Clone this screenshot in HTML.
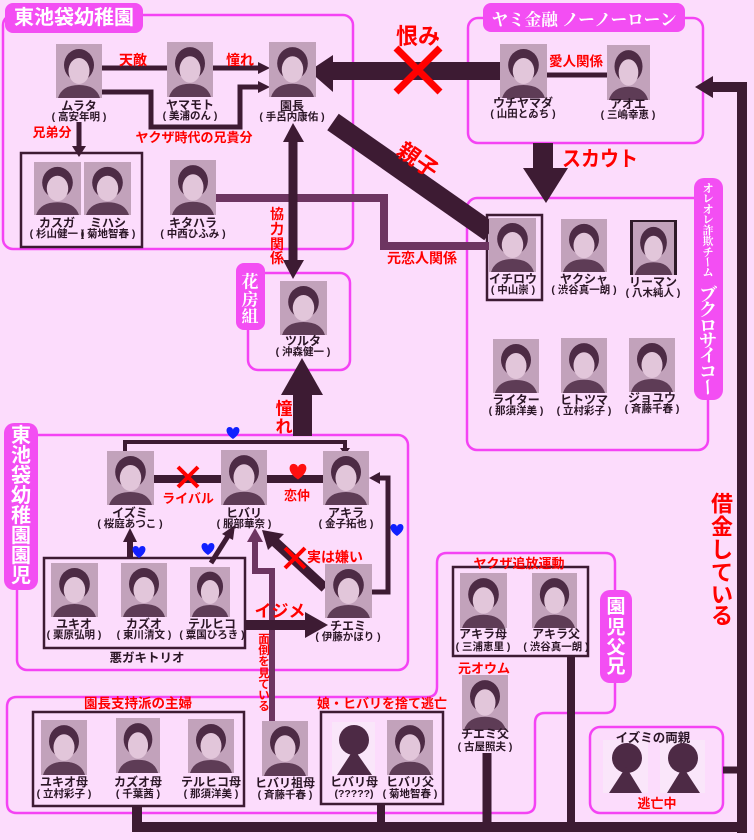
<!DOCTYPE html>
<html><head><meta charset="utf-8">
<style>
html,body{margin:0;padding:0;background:#fcdcfc;width:754px;height:840px;overflow:hidden}
svg{display:block}
text{font-family:"Liberation Sans","Noto Sans CJK JP",sans-serif;font-weight:bold}
.n{font-size:12px;fill:#2b1626;text-anchor:middle}
.s{font-size:10.5px;fill:#2b1626;text-anchor:middle}
.r{fill:#ff0000;text-anchor:middle}
.w{fill:#ffffff;text-anchor:middle;dominant-baseline:central}
.sf{font-family:"Noto Serif CJK SC","Noto Serif CJK JP",serif;font-weight:bold}
.v{text-anchor:middle;dominant-baseline:central}
</style></head><body>
<svg width="754" height="840" viewBox="0 0 754 840" xmlns="http://www.w3.org/2000/svg">
<defs>
<symbol id="ph" viewBox="0 0 46 54" preserveAspectRatio="none">
 <rect width="46" height="54" fill="#c2a2bb"/>
 <ellipse cx="23" cy="21" rx="15" ry="16" fill="#4d2b45"/>
 <path d="M2,54 Q6,41 23,41 Q40,41 44,54Z" fill="#5e3c56"/>
 <ellipse cx="23" cy="27" rx="10.5" ry="13" fill="#e2c6da"/>
</symbol>
<path id="hrt" d="M0,5 C-9,-1 -7,-7 -3.5,-7 C-1.5,-7 0,-5.5 0,-4 C0,-5.5 1.5,-7 3.5,-7 C7,-7 9,-1 0,5Z"/>
</defs>
<rect width="754" height="840" fill="#fcdcfc"/>

<!-- pink boxes -->
<g fill="none" stroke="#f443f4" stroke-width="2.5">
 <rect x="3" y="15" width="350" height="234" rx="10"/>
 <rect x="468" y="18" width="235" height="125" rx="10"/>
 <rect x="467" y="198" width="241" height="252" rx="10"/>
 <rect x="248" y="273" width="102" height="97" rx="10"/>
 <rect x="17" y="435" width="391" height="235" rx="10"/>
 <path d="M17,697 H427 Q437,697 437,687 V563 Q437,553 447,553 H605 Q615,553 615,563 V703 Q615,713 605,713 H545 Q535,713 535,723 V803 Q535,813 525,813 H17 Q7,813 7,803 V707 Q7,697 17,697 Z"/>
 <rect x="590" y="727" width="133" height="86" rx="10"/>
</g>

<!-- dark boxes -->
<g fill="none" stroke="#3d1b33" stroke-width="2.5">
 <rect x="21" y="153" width="121" height="94"/>
 <rect x="487" y="215" width="55" height="85"/>
 <rect x="44" y="558" width="201" height="90"/>
 <rect x="453" y="567" width="135" height="89"/>
 <rect x="33" y="712" width="211" height="94"/>
 <rect x="321" y="712" width="122" height="92"/>
</g>

<!-- purple connectors -->
<g fill="none" stroke="#6d3561">
 <path d="M216,198 H384 V246 H489" stroke-width="8"/>
 <path d="M255,540 V571 H272 V721" stroke-width="6"/>
</g>
<polygon points="247,542 263,542 255,528" fill="#6d3561"/>

<!-- dark connectors -->
<g fill="none" stroke="#3d1b33">
 <line x1="102" y1="68" x2="167" y2="68" stroke-width="5"/>
 <line x1="213" y1="68" x2="260" y2="68" stroke-width="5"/>
 <path d="M102,92 H151 V127 H240 V87 H260" stroke-width="5"/>
 <line x1="79" y1="122" x2="79" y2="148" stroke-width="5"/>
 <line x1="333" y1="122" x2="490" y2="232" stroke-width="20"/>
 <line x1="293" y1="140" x2="293" y2="262" stroke-width="9"/>
 <line x1="547" y1="75" x2="607" y2="75" stroke-width="5"/>
 <path d="M742,833 V87 H712" stroke-width="10"/>
 <path d="M137,806 V827 H747" stroke-width="10"/>
 <line x1="381" y1="804" x2="381" y2="827" stroke-width="8"/>
 <line x1="487" y1="753" x2="487" y2="827" stroke-width="9"/>
 <line x1="571" y1="656" x2="571" y2="827" stroke-width="8"/>
 <line x1="723" y1="770" x2="742" y2="770" stroke-width="7"/>
 <path d="M125,452 V442 H345 V449" stroke-width="4"/>
 <line x1="154" y1="479" x2="221" y2="479" stroke-width="8"/>
 <line x1="267" y1="479" x2="323" y2="479" stroke-width="8"/>
 <path d="M372,592 H388 V478 H378" stroke-width="5"/>
 <line x1="130" y1="558" x2="130" y2="540" stroke-width="6"/>
 <line x1="211" y1="563" x2="228" y2="536" stroke-width="5"/>
 <line x1="325" y1="588" x2="274" y2="541" stroke-width="10"/>
</g>
<g fill="#3d1b33">
 <polygon points="258,62 270,68 258,74"/>
 <polygon points="258,81 270,87 258,93"/>
 <polygon points="72,146 86,146 79,157"/>
 <rect x="333" y="62" width="168" height="18"/>
 <polygon points="333,55 309,71 333,92"/>
 <polygon points="283,142 293,123 304,142"/>
 <polygon points="283,260 293,279 304,260"/>
 <rect x="533" y="143" width="20" height="27"/>
 <polygon points="523,168 568,168 546,203"/>
 <polygon points="713,76 695,87 713,98"/>
 <rect x="293" y="393" width="19" height="43"/>
 <polygon points="281,395 323,395 302,358"/>
 <polygon points="340,448 350,448 345,455"/>
 <polygon points="380,472 369,478 380,484"/>
 <polygon points="123,542 137,542 130,528"/>
 <polygon points="222,534 233,540 235,525"/>
 <polygon points="284,534 268,550 262,530"/>
 <rect x="245" y="620" width="62" height="10"/>
 <polygon points="305,612 305,638 328,625"/>
</g>

<!-- red X marks -->
<g stroke="#ff0000" stroke-linecap="butt">
 <path d="M396,48 L440,92 M440,48 L396,92" stroke-width="7"/>
 <path d="M178,467 L198,487 M198,467 L178,487" stroke-width="4"/>
 <path d="M285,548 L305,568 M305,548 L285,568" stroke-width="4"/>
</g>

<!-- hearts -->
<use href="#hrt" transform="translate(233,434)" fill="#1020ff"/>
<use href="#hrt" transform="translate(397,531)" fill="#1020ff"/>
<use href="#hrt" transform="translate(139,553)" fill="#1020ff"/>
<use href="#hrt" transform="translate(208,550)" fill="#1020ff"/>
<use href="#hrt" transform="translate(298,473) scale(1.3)" fill="#ff1010"/>

<!-- photos -->
<use href="#ph" x="56" y="44" width="46" height="54"/>
<use href="#ph" x="167" y="42" width="46" height="55"/>
<use href="#ph" x="269" y="42" width="47" height="55"/>
<use href="#ph" x="34" y="162" width="47" height="53"/>
<use href="#ph" x="84" y="162" width="47" height="53"/>
<use href="#ph" x="170" y="160" width="46" height="55"/>
<use href="#ph" x="500" y="44" width="47" height="54"/>
<use href="#ph" x="607" y="45" width="43" height="55"/>
<use href="#ph" x="489" y="218" width="47" height="54"/>
<use href="#ph" x="561" y="219" width="46" height="53"/>
<rect x="630" y="220" width="47" height="55" fill="#2e1a28"/>
<use href="#ph" x="633" y="222" width="41" height="53"/>
<use href="#ph" x="493" y="339" width="46" height="54"/>
<use href="#ph" x="561" y="338" width="46" height="55"/>
<use href="#ph" x="629" y="338" width="46" height="54"/>
<use href="#ph" x="280" y="281" width="47" height="54"/>
<use href="#ph" x="107" y="451" width="47" height="54"/>
<use href="#ph" x="221" y="450" width="46" height="55"/>
<use href="#ph" x="323" y="451" width="46" height="54"/>
<use href="#ph" x="51" y="563" width="47" height="54"/>
<use href="#ph" x="121" y="563" width="46" height="54"/>
<use href="#ph" x="190" y="567" width="40" height="50"/>
<use href="#ph" x="325" y="564" width="47" height="54"/>
<use href="#ph" x="460" y="573" width="47" height="55"/>
<use href="#ph" x="532" y="573" width="45" height="55"/>
<use href="#ph" x="462" y="675" width="46" height="55"/>
<use href="#ph" x="41" y="720" width="46" height="55"/>
<use href="#ph" x="116" y="718" width="44" height="55"/>
<use href="#ph" x="188" y="719" width="46" height="54"/>
<use href="#ph" x="262" y="721" width="46" height="55"/>
<use href="#ph" x="387" y="720" width="46" height="55"/>

<!-- silhouettes -->
<g>
 <rect x="332" y="722" width="43" height="53" fill="#fae6fa"/>
 <rect x="603" y="740" width="45" height="53" fill="#fae6fa"/>
 <rect x="660" y="740" width="45" height="53" fill="#fae6fa"/>
 <g fill="#4d2a45">
  <circle cx="354" cy="740" r="15"/>
  <polygon points="337,775 372,775 354,749"/>
  <circle cx="627" cy="758" r="15"/>
  <polygon points="609,793 642,793 626,767"/>
  <circle cx="683" cy="758" r="15"/>
  <polygon points="667,793 700,793 683,767"/>
 </g>
</g>

<!-- names -->
<text class="n" x="79" y="110">ムラタ</text><text class="s" x="79" y="120">( 高安年明 )</text>
<text class="n" x="190" y="109">ヤマモト</text><text class="s" x="190" y="119">( 美浦のん )</text>
<text class="n" x="292" y="110">園長</text><text class="s" x="292" y="120">( 手呂内康佑 )</text>
<text class="n" x="57" y="227">カスガ</text><text class="s" x="57" y="237">( 杉山健一 )</text>
<text class="n" x="108" y="227">ミハシ</text><text class="s" x="108" y="237">( 菊地智春 )</text>
<text class="n" x="193" y="227">キタハラ</text><text class="s" x="193" y="237">( 中西ひふみ )</text>
<text class="n" x="523" y="107">ウチヤマダ</text><text class="s" x="523" y="117">( 山田とゐち )</text>
<text class="n" x="628" y="108">アオエ</text><text class="s" x="628" y="118">( 三嶋幸恵 )</text>
<text class="n" x="513" y="283">イチロウ</text><text class="s" x="513" y="293">( 中山崇 )</text>
<text class="n" x="584" y="283">ヤクシャ</text><text class="s" x="584" y="293">( 渋谷真一朗 )</text>
<text class="n" x="653" y="286">リーマン</text><text class="s" x="653" y="296">( 八木純人 )</text>
<text class="n" x="516" y="404">ライター</text><text class="s" x="516" y="414">( 那須洋美 )</text>
<text class="n" x="584" y="404">ヒトツマ</text><text class="s" x="584" y="414">( 立村彩子 )</text>
<text class="n" x="652" y="402">ジョユウ</text><text class="s" x="652" y="412">( 斉藤千春 )</text>
<text class="n" x="303" y="345">ツルタ</text><text class="s" x="303" y="355">( 沖森健一 )</text>
<text class="n" x="130" y="517">イズミ</text><text class="s" x="130" y="527">( 桜庭あつこ )</text>
<text class="n" x="244" y="517">ヒバリ</text><text class="s" x="244" y="527">( 服部華奈 )</text>
<text class="n" x="346" y="517">アキラ</text><text class="s" x="346" y="527">( 金子拓也 )</text>
<text class="n" x="74" y="628">ユキオ</text><text class="s" x="74" y="638">( 栗原弘明 )</text>
<text class="n" x="144" y="628">カズオ</text><text class="s" x="144" y="638">( 東川清文 )</text>
<text class="n" x="212" y="628">テルヒコ</text><text class="s" x="212" y="638">( 粟国ひろき )</text>
<text class="n" x="348" y="630">チエミ</text><text class="s" x="348" y="640">( 伊藤かほり )</text>
<text class="n" x="483" y="638">アキラ母</text><text class="s" x="483" y="650">( 三浦恵里 )</text>
<text class="n" x="556" y="638">アキラ父</text><text class="s" x="556" y="650">( 渋谷真一朗 )</text>
<text class="n" x="485" y="738">チエミ父</text><text class="s" x="485" y="750">( 古屋照夫 )</text>
<text class="n" x="64" y="786">ユキオ母</text><text class="s" x="64" y="797">( 立村彩子 )</text>
<text class="n" x="138" y="786">カズオ母</text><text class="s" x="138" y="797">( 千葉茜 )</text>
<text class="n" x="211" y="786">テルヒコ母</text><text class="s" x="211" y="797">( 那須洋美 )</text>
<text class="n" x="285" y="787">ヒバリ祖母</text><text class="s" x="285" y="798">( 斉藤千春 )</text>
<text class="n" x="354" y="786">ヒバリ母</text><text class="s" x="354" y="797">(?????)</text>
<text class="n" x="410" y="786">ヒバリ父</text><text class="s" x="410" y="797">( 菊地智春 )</text>

<!-- red labels -->
<text class="r" x="133" y="65" font-size="14">天敵</text>
<text class="r" x="240" y="65" font-size="14">憧れ</text>
<text class="r" x="194" y="142" font-size="13">ヤクザ時代の兄貴分</text>
<text class="r" x="52" y="137" font-size="13">兄弟分</text>
<text class="r" x="418" y="44" font-size="22">恨み</text>
<text class="r" x="576" y="66" font-size="13.5">愛人関係</text>
<text class="r" x="600" y="166" font-size="21" textLength="76" lengthAdjust="spacingAndGlyphs">スカウト</text>
<text class="r" x="418" y="168" font-size="22" transform="rotate(35 418 160)">親子</text>
<text class="r" x="422" y="263" font-size="14">元恋人関係</text>
<text class="r" x="188" y="503" font-size="13">ライバル</text>
<text class="r" x="297" y="500" font-size="13">恋仲</text>
<text class="r" x="335" y="562" font-size="14">実は嫌い</text>
<text class="r" x="280" y="617" font-size="17">イジメ</text>
<text x="147" y="662" font-size="12.5" fill="#2b1626" text-anchor="middle">悪ガキトリオ</text>
<text class="r" x="519" y="568" font-size="13">ヤクザ追放運動</text>
<text class="r" x="484" y="673" font-size="13">元オウム</text>
<text class="r" x="138" y="708" font-size="13.5">園長支持派の主婦</text>
<text class="r" x="382" y="708" font-size="13">娘・ヒバリを捨て逃亡</text>
<text class="r" x="657" y="808" font-size="13">逃亡中</text>
<text x="653" y="742" font-size="12.5" fill="#2b1626" text-anchor="middle">イズミの両親</text>

<!-- vertical red labels -->
<g class="v" fill="#ff0000" font-size="14">
 <text class="v" x="277" y="214">協</text><text class="v" x="277" y="229">力</text><text class="v" x="277" y="244">関</text><text class="v" x="277" y="258">係</text>
</g>
<g fill="#ff0000" font-size="17">
 <text class="v" x="284" y="409">憧</text><text class="v" x="284" y="427">れ</text>
</g>
<g fill="#ff0000" font-size="11.5">
 <text class="v" x="264" y="640">面</text><text class="v" x="264" y="651">倒</text><text class="v" x="264" y="662">を</text><text class="v" x="264" y="674">見</text><text class="v" x="264" y="685">て</text><text class="v" x="264" y="696">い</text><text class="v" x="264" y="707">る</text>
</g>
<g fill="#ff0000" font-size="22">
 <text class="v" x="722" y="504">借</text><text class="v" x="722" y="527">金</text><text class="v" x="722" y="550">し</text><text class="v" x="722" y="573">て</text><text class="v" x="722" y="595">い</text><text class="v" x="722" y="616">る</text>
</g>

<!-- tabs -->
<rect x="5" y="3" width="138" height="30" rx="8" fill="#f34ef3"/>
<text x="74" y="18" font-size="20" fill="#fff" text-anchor="middle" dominant-baseline="central">東池袋幼稚園</text>

<rect x="483" y="3" width="202" height="29" rx="8" fill="#f34ef3"/>
<text class="sf" x="584" y="18" font-size="17" fill="#fff" text-anchor="middle" dominant-baseline="central" textLength="185" lengthAdjust="spacingAndGlyphs">ヤミ金融 ノーノーローン</text>

<rect x="236" y="263" width="29" height="67" rx="8" fill="#f34ef3"/>
<g class="sf" fill="#fff" font-size="17">
 <text class="v sf" x="250" y="280">花</text><text class="v sf" x="250" y="298">房</text><text class="v sf" x="250" y="315">組</text>
</g>

<rect x="4" y="423" width="34" height="167" rx="10" fill="#f34ef3"/>
<g fill="#fff" font-size="20">
 <text class="v" x="21" y="436">東</text><text class="v" x="21" y="456">池</text><text class="v" x="21" y="476">袋</text><text class="v" x="21" y="496">幼</text><text class="v" x="21" y="516">稚</text><text class="v" x="21" y="536">園</text><text class="v" x="21" y="556">園</text><text class="v" x="21" y="576">児</text>
</g>

<rect x="600" y="590" width="32" height="93" rx="10" fill="#f34ef3"/>
<g fill="#fff" font-size="19">
 <text class="v" x="616" y="607">園</text><text class="v" x="616" y="628">児</text><text class="v" x="616" y="648">父</text><text class="v" x="616" y="667">兄</text>
</g>

<rect x="694" y="178" width="29" height="222" rx="10" fill="#f34ef3"/>
<g fill="#fff" font-size="11">
 <text class="v sf" x="708" y="188">オ</text><text class="v sf" x="708" y="198">レ</text><text class="v sf" x="708" y="209">オ</text><text class="v sf" x="708" y="219">レ</text><text class="v sf" x="708" y="230">詐</text><text class="v sf" x="708" y="241">欺</text><text class="v sf" x="708" y="252">チ</text><text class="v sf" x="708" y="262" transform="rotate(90 708 262)">ー</text><text class="v sf" x="708" y="272">ム</text>
</g>
<g fill="#fff" font-size="18">
 <text class="v sf" x="708" y="294">ブ</text><text class="v sf" x="708" y="309">ク</text><text class="v sf" x="708" y="325">ロ</text><text class="v sf" x="708" y="340">サ</text><text class="v sf" x="708" y="355">イ</text><text class="v sf" x="708" y="371">コ</text><text class="v sf" x="708" y="387" transform="rotate(90 708 387)">ー</text>
</g>
</svg>
</body></html>
